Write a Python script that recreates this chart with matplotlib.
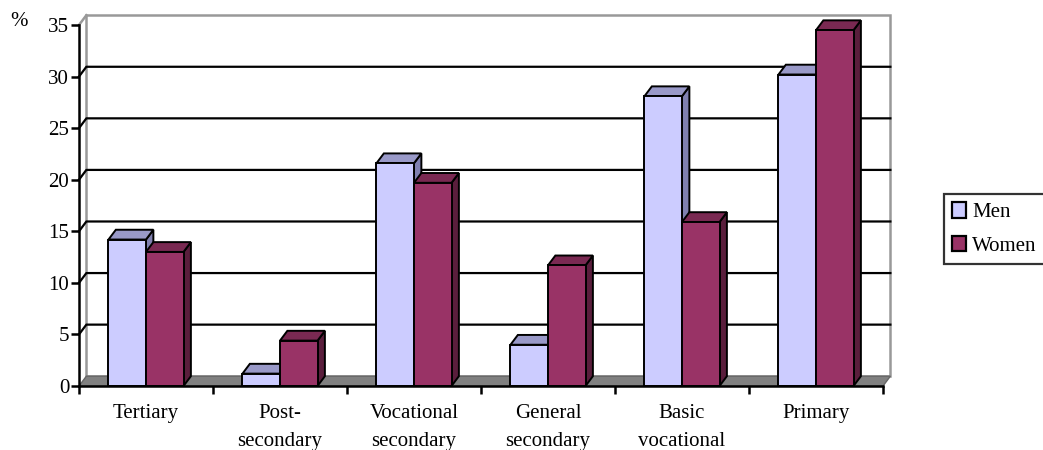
import matplotlib
matplotlib.use('Agg')
import matplotlib.pyplot as plt
from matplotlib.patches import Polygon, Patch

categories = ["Tertiary", "Post-\nsecondary", "Vocational\nsecondary",
              "General\nsecondary", "Basic\nvocational", "Primary"]
men = [14.2, 1.2, 21.6, 4.0, 28.1, 30.2]
women = [13.0, 4.4, 19.7, 11.7, 15.9, 34.5]
y_ticks = [0, 5, 10, 15, 20, 25, 30, 35]

# depth offset of the fake 3d (data units)
DX = 0.055
DY = 0.95
BAR_W = 0.28

MEN_COLORS = ("#ccccff", "#9999c8", "#8080b0")
WOMEN_COLORS = ("#993366", "#7a2952", "#5a1e3c")


def bar3d(ax, x0, h, colors, z):
    x1 = x0 + BAR_W
    front = Polygon([(x0, 0), (x1, 0), (x1, h), (x0, h)], closed=True,
                    facecolor=colors[0], edgecolor="black", lw=1.4, zorder=z, clip_on=False)
    top = Polygon([(x0, h), (x1, h), (x1 + DX, h + DY), (x0 + DX, h + DY)], closed=True,
                  facecolor=colors[1], edgecolor="black", lw=1.4, zorder=z, clip_on=False)
    side = Polygon([(x1, 0), (x1 + DX, DY), (x1 + DX, h + DY), (x1, h)], closed=True,
                   facecolor=colors[2], edgecolor="black", lw=1.4, zorder=z, clip_on=False)
    for p in (side, top, front):
        ax.add_patch(p)


def main():
    plt.rcParams['font.family'] = ['Liberation Serif', 'DejaVu Serif']
    fig = plt.figure(figsize=(10.43, 4.5), dpi=100)
    ax = fig.add_axes([79 / 1043, 1 - 386 / 450, 804 / 1043, 361 / 450])
    n = len(categories)
    ax.set_xlim(0, n)
    ax.set_ylim(0, 35)

    # back wall
    ax.add_patch(Polygon([(DX, DY), (n + DX, DY), (n + DX, 35 + DY), (DX, 35 + DY)], closed=True,
                         facecolor="white", edgecolor="#999999", lw=1.8, zorder=1, clip_on=False))
    ax.plot([0, DX], [35, 35 + DY], color="#999999", lw=1.8, zorder=1, clip_on=False)

    # gridlines on the back wall
    for t in y_ticks[1:-1]:
        ax.plot([0, DX, n + DX], [t, t + DY, t + DY], color="black", lw=1.6, zorder=2, clip_on=False)

    # floor
    ax.add_patch(Polygon([(0, 0), (n, 0), (n + DX, DY), (DX, DY)], closed=True,
                         facecolor="#808080", edgecolor="#666666", lw=1.0, zorder=2, clip_on=False))

    z = 3
    for i in range(n):
        bar3d(ax, i + 0.5 - BAR_W, men[i], MEN_COLORS, z)
        bar3d(ax, i + 0.5, women[i], WOMEN_COLORS, z + 1)
        z += 2

    for s in ["top", "right"]:
        ax.spines[s].set_visible(False)
    for s in ["left", "bottom"]:
        ax.spines[s].set_linewidth(1.8)
        ax.spines[s].set_zorder(50)

    ax.set_yticks(y_ticks)
    ax.set_xticks(range(n + 1))
    ax.set_xticklabels([])
    ax.set_xticks([i + 0.5 for i in range(n)], minor=True)
    ax.set_xticklabels(categories, minor=True, fontsize=15, linespacing=1.65)
    ax.tick_params(axis="x", which="major", direction="out", length=6, width=1.8)
    ax.tick_params(axis="x", which="minor", length=0, pad=13)
    ax.tick_params(axis="y", direction="out", length=6, width=1.8, labelsize=15, pad=1)
    for lbl in ax.get_xticklabels(minor=True):
        lbl.set_verticalalignment("top")

    fig.text(10 / 1043, 1 - 22 / 450, "%", fontsize=15, va="center", ha="left")

    handles = [Patch(facecolor=MEN_COLORS[0], edgecolor="black", lw=1.6, label="Men"),
               Patch(facecolor=WOMEN_COLORS[0], edgecolor="black", lw=1.6, label="Women")]
    leg = fig.legend(handles=handles, loc="upper left", bbox_to_anchor=(944 / 1043, 1 - 194 / 450),
                     fontsize=15, frameon=True, fancybox=False, borderaxespad=0,
                     handlelength=0.65, handleheight=0.75, handletextpad=0.3,
                     borderpad=0.4, labelspacing=0.65)
    leg.get_frame().set_edgecolor("black")
    leg.get_frame().set_linewidth(1.6)

    fig.savefig("out.png", dpi=100)
    plt.close(fig)


if __name__ == "__main__":
    main()
